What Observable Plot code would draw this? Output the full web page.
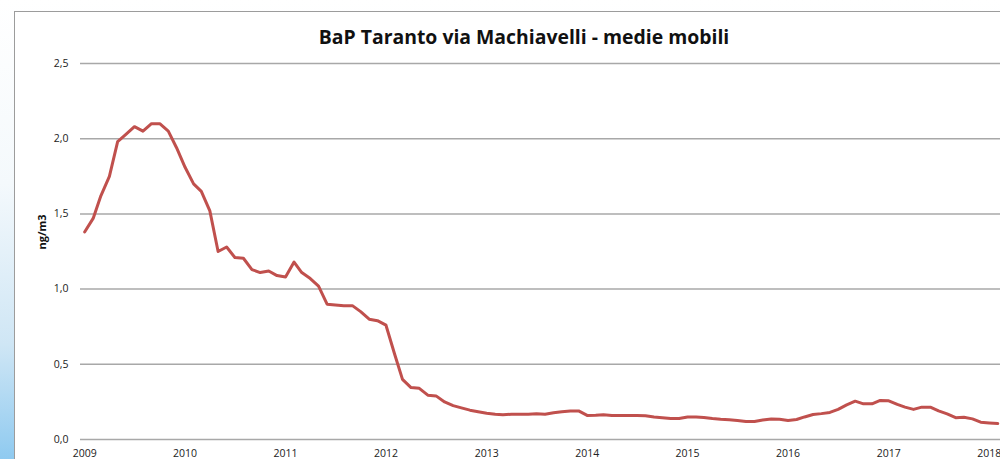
<!DOCTYPE html>
<html>
<head>
<meta charset="utf-8">
<script src="https://cdn.jsdelivr.net/npm/d3@7"></script>
<script src="https://cdn.jsdelivr.net/npm/@observablehq/plot@0.6"></script>
<style>
  html, body { margin: 0; padding: 0; }
  #page { position: relative; width: 1000px; height: 459px; overflow: hidden;
          background: linear-gradient(to bottom, #ffffff 0%, #f4f9fc 40%, #cfe6f5 75%, #8fcaf0 100%); }
  #frame { position: absolute; left: 14px; top: 11px; width: 1100px; height: 500px;
           border: 1.5px solid #9c9c9c; background: #ffffff; }
  #title { position: absolute; left: 0; top: 23px; width: 1048px; text-align: center;
           font-family: "Open Sans", Lato, sans-serif; font-weight: bold; font-size: 19.4px; color: #111; }
  #chart { position: absolute; left: 0; top: 50px; }
</style>
</head>
<body>
<div id="page">
  <div id="frame"></div>
  <div id="title">BaP Taranto via Machiavelli - medie mobili</div>
  <div id="chart"></div>
</div>
<script>
// Monthly moving-average values (ng/m3), starting January 2009
const startYear = 2009;
const values = [
  1.38, 1.47, 1.62, 1.75, 1.98, 2.03, 2.08, 2.05, 2.10, 2.10, 2.05, 1.94,
  1.81, 1.70, 1.65, 1.52, 1.25, 1.28, 1.21, 1.205, 1.13, 1.11, 1.12, 1.09,
  1.08, 1.18, 1.11, 1.07, 1.02, 0.90, 0.895, 0.89, 0.89, 0.85, 0.80, 0.79,
  0.76, 0.57, 0.40, 0.345, 0.34, 0.295, 0.29, 0.25, 0.225, 0.21, 0.195, 0.185,
  0.175, 0.168, 0.165, 0.168, 0.168, 0.168, 0.172, 0.168, 0.178, 0.185, 0.19, 0.19,
  0.16, 0.162, 0.165, 0.16, 0.16, 0.16, 0.16, 0.158, 0.15, 0.145, 0.14, 0.14,
  0.15, 0.15, 0.147, 0.14, 0.135, 0.132, 0.127, 0.12, 0.12, 0.13, 0.137, 0.135,
  0.127, 0.133, 0.15, 0.166, 0.172, 0.18, 0.20, 0.23, 0.255, 0.237, 0.237, 0.26,
  0.257, 0.233, 0.215, 0.20, 0.215, 0.215, 0.19, 0.17, 0.145, 0.148, 0.137, 0.115,
  0.11, 0.106
];
const yTicks = [0, 0.5, 1.0, 1.5, 2.0, 2.5];
const yTickLabels = ["0,0", "0,5", "1,0", "1,5", "2,0", "2,5"];
const yearTicks = [2009, 2010, 2011, 2012, 2013, 2014, 2015, 2016, 2017, 2018];
const yLabel = "ng/m3";

const data = values.map((v, i) => ({date: new Date(Date.UTC(startYear, i, 1)), value: v}));

const chart = Plot.plot({
  width: 1000,
  height: 409,
  marginLeft: 80,
  marginRight: 0,
  marginTop: 13,
  marginBottom: 20,
  style: {fontFamily: "'Open Sans', Lato, sans-serif", fontSize: "10.5px", color: "#222", background: "transparent", overflow: "visible"},
  x: {type: "utc", domain: [new Date(Date.UTC(2008, 11, 17)), new Date(Date.UTC(2018, 1, 11))]},
  y: {domain: [0, 2.5]},
  marks: [
    Plot.ruleY(yTicks, {stroke: "#a8a8a8", strokeWidth: 1.5}),
    Plot.axisY({ticks: yTicks, tickSize: 0, tickPadding: 12, tickFormat: d => yTickLabels[yTicks.indexOf(d)], label: null}),
    Plot.axisX({ticks: yearTicks.map(y => new Date(Date.UTC(y, 0, 1))), tickSize: 0, tickPadding: 10,
                tickFormat: d3.utcFormat("%Y"), label: null}),
    Plot.line(data, {x: "date", y: "value", stroke: "#C0504D", strokeWidth: 3, strokeLinejoin: "round"}),
    Plot.text([yLabel], {frameAnchor: "left", dx: -38, dy: -2, rotate: -90, fontWeight: "bold", fontSize: 11, fill: "#111"})
  ]
});
document.getElementById("chart").appendChild(chart);
</script>
</body>
</html>
